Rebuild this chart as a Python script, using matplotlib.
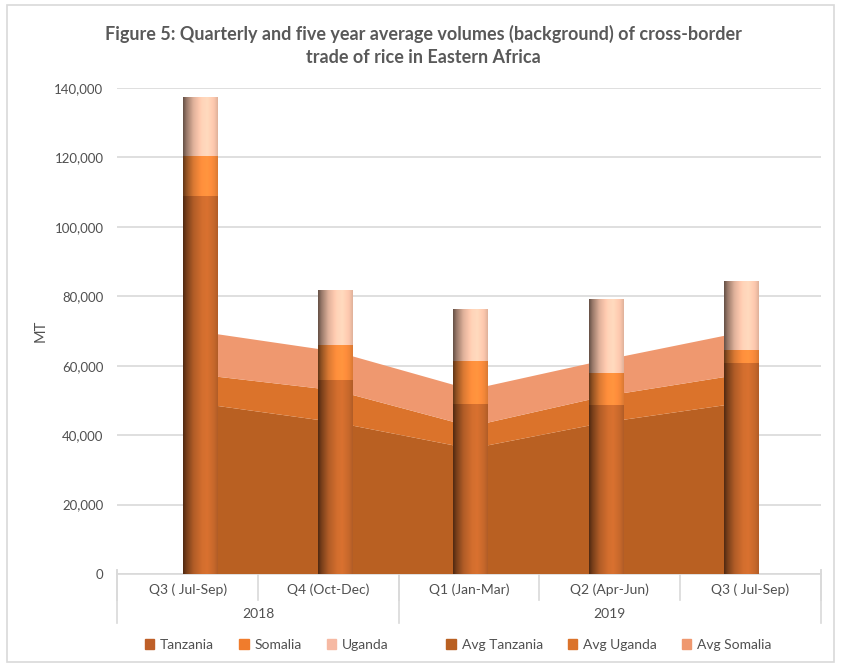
import numpy as np
import matplotlib
matplotlib.use('Agg')
from matplotlib import pyplot as plt
from matplotlib.patches import Patch, Ellipse, Rectangle
from matplotlib.ticker import FuncFormatter
import matplotlib.colors as mcolors

quarters = ["Q3 ( Jul-Sep)", "Q4 (Oct-Dec)", "Q1 (Jan-Mar)", "Q2 (Apr-Jun)", "Q3 ( Jul-Sep)"]
years = ["2018", "2019"]
year_quarters = [2, 3]  # number of quarters under each year

# quarterly volumes (MT), stacked bars
tanzania = [109000, 55900, 49000, 48700, 60800]
somalia = [11300, 10100, 12400, 9300, 3600]
uganda = [16900, 15700, 14700, 21300, 19700]

# five year averages (MT), stacked areas in the background
avg_tanzania = [49100, 43700, 36100, 43700, 49300]
avg_uganda = [8300, 9200, 6400, 7600, 8200]
avg_somalia = [12400, 11200, 10600, 10400, 12100]

grey = '#595959'
text_col = '#505050'
grid_col = '#D9D9D9'
bar_cols = ['#C9692C', '#F88A3A', '#FFCAB0']
bar_legend_cols = ['#BE5F28', '#F07C2C', '#F6B9A3']
area_cols = ['#B96022', '#DB732B', '#EF986F']

plt.rcParams['font.family'] = ['Lato', 'DejaVu Sans']

fig = plt.figure(figsize=(8.41, 6.67), dpi=100)
ax = fig.add_axes([0.1395, 0.1394, 0.8364, 0.7286])

n = len(quarters)
ax.set_xlim(-0.5, n - 0.5)
ax.set_ylim(0, 140000)
ax.set_yticks(np.arange(0, 140001, 20000))
ax.yaxis.set_major_formatter(FuncFormatter(lambda v, p: f'{v:,.0f}'))
ax.tick_params(axis='y', length=0, labelsize=9.5, labelcolor=text_col, pad=10)
ax.set_xticks([])
ax.grid(axis='y', color=grid_col, linewidth=1.2)
ax.set_axisbelow(True)
for s in ['left', 'right', 'top']:
    ax.spines[s].set_visible(False)
ax.spines['bottom'].set_color(grid_col)
ax.spines['bottom'].set_linewidth(1.2)
ax.set_ylabel('MT', color=text_col, fontsize=10.5, labelpad=5)

# two level category axis drawn by hand
tr = ax.get_xaxis_transform()
for i, q in enumerate(quarters):
    ax.text(i, -0.033, q, transform=tr, ha='center', va='center', fontsize=10, color=text_col)
for b in np.arange(-0.5, n, 1.0):
    ax.plot([b, b], [0.008, -0.0535], transform=tr, color=grid_col, lw=1.2, clip_on=False)
edges = np.concatenate([[0], np.cumsum(year_quarters)]) - 0.5
for j, y in enumerate(years):
    ax.text((edges[j] + edges[j + 1]) / 2, -0.082, y, transform=tr, ha='center', va='center',
            fontsize=10, color=text_col)
for b in edges:
    ax.plot([b, b], [0.008, -0.1008], transform=tr, color=grid_col, lw=1.2, clip_on=False)

# secondary category axis for bars and areas (a bit narrower than the primary one)
ax2 = ax.twiny()
ax2.set_xlim(-0.615, 4.59)
ax2.set_xticks([])
for s in ax2.spines.values():
    s.set_visible(False)

x = np.arange(n)
ax2.stackplot(x, avg_tanzania, avg_uganda, avg_somalia, colors=area_cols, linewidth=0, zorder=1)


def shade(hexcol, steps=80):
    base = np.array(mcolors.to_rgb(hexcol))
    t = np.linspace(0, 1, steps)
    f = np.interp(t, [0, 0.1, 0.3, 0.55, 0.7, 0.9, 1.0], [0.4, 0.6, 0.88, 1.05, 1.08, 0.98, 0.88])
    rgb = np.clip(base[None, :] * f[:, None], 0, 1)
    return rgb[None, :, :]


width = 0.255
bottoms = np.zeros(n)
for vals, col in zip([tanzania, somalia, uganda], bar_cols):
    img = shade(col)
    for i in range(n):
        lo, hi = bottoms[i], bottoms[i] + vals[i]
        ax2.imshow(img, extent=[i - width / 2, i + width / 2, lo, hi], aspect='auto',
                   interpolation='bilinear', zorder=3)
    bottoms += np.array(vals)

# rounded cylinder bottoms
for i in range(n):
    im = ax2.imshow(shade(bar_cols[0]), extent=[i - width / 2, i + width / 2, -1000, 0],
                    aspect='auto', interpolation='bilinear', zorder=3)
    clip = Ellipse((i, 0), width, 1900, transform=ax2.transData)
    im.set_clip_path(clip)
    im.set_clip_box(None)

ax2.set_xlim(-0.615, 4.59)
ax2.set_ylim(0, 140000)

fig.text(0.503, 0.932, 'Figure 5: Quarterly and five year average volumes (background) of cross-border\n'
         'trade of rice in Eastern Africa', ha='center', va='center', fontsize=13,
         fontweight='bold', color=grey, linespacing=1.45)

names1 = ['Tanzania', 'Somalia', 'Uganda']
names2 = ['Avg Tanzania', 'Avg Uganda', 'Avg Somalia']
h1 = [Patch(color=c, label=l) for c, l in zip(bar_legend_cols, names1)]
h2 = [Patch(color=c, label=l) for c, l in zip(area_cols, names2)]
for hs, cx in [(h1, 0.317), (h2, 0.724)]:
    fig.legend(handles=hs, loc='center', bbox_to_anchor=(cx, 0.033), ncol=3, frameon=False,
               fontsize=10, labelcolor=text_col, handlelength=0.7, handleheight=0.7,
               handletextpad=0.4, columnspacing=1.8)

fig.patches.append(Rectangle((0.008, 0.008), 0.984, 0.984, transform=fig.transFigure,
                             fill=False, edgecolor=grid_col, linewidth=1.2))

fig.savefig('out.png', dpi=100)
